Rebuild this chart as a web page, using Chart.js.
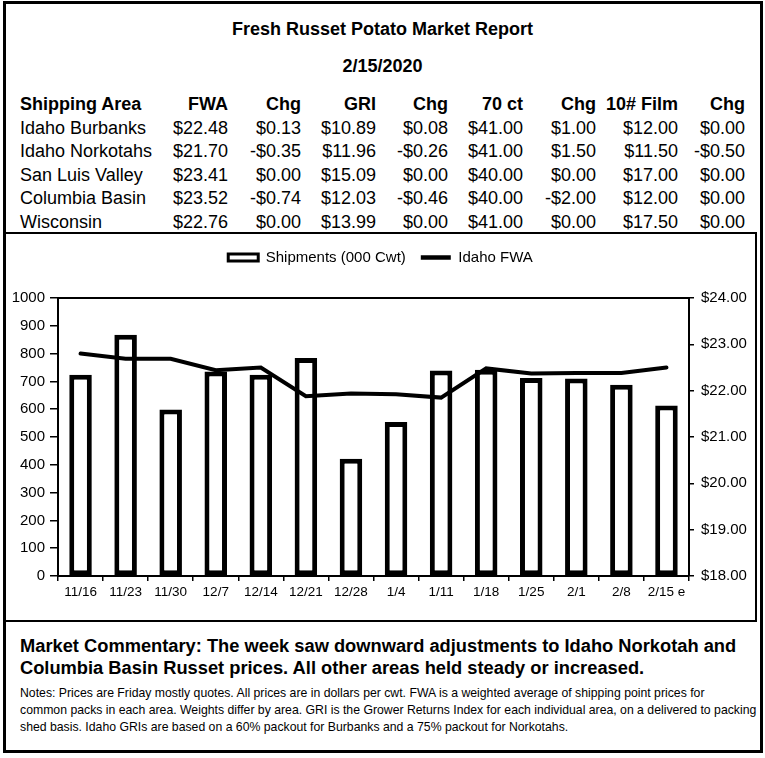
<!DOCTYPE html>
<html>
<head>
<meta charset="utf-8">
<script src="https://cdn.jsdelivr.net/npm/chart.js@4.4.1/dist/chart.umd.min.js"></script>
<style>
  body { margin: 0; background: #fff; color: #000; font-family: "Liberation Sans", Arial, sans-serif; }
  .abs { position: absolute; white-space: nowrap; line-height: 24px; }
  #frame { position: absolute; left: 3px; top: 1px; width: 754px; height: 746px; border: 3px solid #000; }
  #chartBox { position: absolute; left: 4px; top: 232px; width: 753px; height: 390px; box-sizing: border-box;
              border: 2px solid #000; border-left: none; }
  #wrap { position: absolute; left: 6px; top: 235px; width: 749px; height: 385px; }
  .title { font-weight: bold; font-size: 18px; left: 0; width: 765px; text-align: center; }
  .cell { font-size: 18px; }
  .hd { font-weight: bold; }
  .comment { font-weight: bold; font-size: 18.3px; left: 20px; line-height: 22px; }
  .notes { font-size: 12.25px; left: 20px; line-height: 17px; }
</style>
</head>
<body>
<div id="frame"></div>
<div class="abs title" style="top:17px">Fresh Russet Potato Market Report</div>
<div class="abs title" style="top:54px">2/15/2020</div>
<div id="table"></div>
<div id="chartBox"></div>
<div id="wrap"><canvas id="myChart"></canvas></div>
<div class="abs comment" style="top:635px">Market Commentary: The week saw downward adjustments to Idaho Norkotah and<br>Columbia Basin Russet prices. All other areas held steady or increased.</div>
<div class="abs notes" style="top:685px">Notes: Prices are Friday mostly quotes. All prices are in dollars per cwt. FWA is a weighted average of shipping point prices for<br>common packs in each area. Weights differ by area. GRI is the Grower Returns Index for each individual area, on a delivered to packing<br>shed basis. Idaho GRIs are based on a 60% packout for Burbanks and a 75% packout for Norkotahs.</div>

<script>
  // table
  const headers = ['Shipping Area', 'FWA', 'Chg', 'GRI', 'Chg', '70 ct', 'Chg', '10# Film', 'Chg'];
  const areas = ['Idaho Burbanks', 'Idaho Norkotahs', 'San Luis Valley', 'Columbia Basin', 'Wisconsin'];
  const fwa = ['$22.48', '$21.70', '$23.41', '$23.52', '$22.76'];
  const fwaChg = ['$0.13', '-$0.35', '$0.00', '-$0.74', '$0.00'];
  const gri = ['$10.89', '$11.96', '$15.09', '$12.03', '$13.99'];
  const griChg = ['$0.08', '-$0.26', '$0.00', '-$0.46', '$0.00'];
  const ct70 = ['$41.00', '$41.00', '$40.00', '$40.00', '$41.00'];
  const ct70Chg = ['$1.00', '$1.50', '$0.00', '-$2.00', '$0.00'];
  const film = ['$12.00', '$11.50', '$17.00', '$12.00', '$17.50'];
  const filmChg = ['$0.00', '-$0.50', '$0.00', '$0.00', '$0.00'];

  // chart
  const weeks = ['11/16', '11/23', '11/30', '12/7', '12/14', '12/21', '12/28', '1/4', '1/11', '1/18', '1/25', '2/1', '2/8', '2/15 e'];
  const shipments = [724, 868, 599, 736, 724, 784, 422, 554, 739, 742, 712, 710, 688, 613];
  const idahoFwa = [22.80, 22.69, 22.69, 22.44, 22.50, 21.88, 21.94, 21.92, 21.85, 22.48, 22.37, 22.38, 22.38, 22.50];

  const colEdges = [228, 301, 376, 448, 523, 596, 678, 745];
  const rowTop = [92, 115.5, 139, 162.5, 186, 209.5];
  const table = document.getElementById('table');
  function addCell(text, top, edge, bold) {
    const d = document.createElement('div');
    d.className = 'abs cell' + (bold ? ' hd' : '');
    d.style.top = top + 'px';
    if (edge === null) {
      d.style.left = '20px';
    } else {
      d.style.left = edge + 'px';
      d.style.transform = 'translateX(-100%)';
    }
    d.textContent = text;
    table.appendChild(d);
  }
  headers.forEach((h, i) => addCell(h, rowTop[0], i === 0 ? null : colEdges[i - 1], true));
  const cols = [fwa, fwaChg, gri, griChg, ct70, ct70Chg, film, filmChg];
  areas.forEach((a, r) => {
    addCell(a, rowTop[r + 1], null, false);
    cols.forEach((c, i) => addCell(c[r], rowTop[r + 1], colEdges[i], false));
  });

  const font = 'Liberation Sans, Arial, sans-serif';
  Chart.defaults.color = '#000';
  Chart.defaults.font.family = font;

  const ctx = document.getElementById('myChart').getContext('2d');
  new Chart(ctx, {
    data: {
      labels: weeks,
      datasets: [{
        type: 'bar',
        label: 'Shipments (000 Cwt)',
        data: shipments,
        backgroundColor: '#fff',
        borderColor: '#000',
        borderWidth: 5,
        borderSkipped: false,
        barPercentage: 0.5,
        categoryPercentage: 1,
        pointStyle: 'rect',
        yAxisID: 'y',
        order: 1
      }, {
        type: 'line',
        label: 'Idaho FWA',
        data: idahoFwa,
        borderColor: '#000',
        backgroundColor: '#000',
        borderWidth: 4,
        borderCapStyle: 'round',
        pointRadius: 0,
        pointStyle: 'line',
        tension: 0,
        yAxisID: 'y1',
        order: 0
      }]
    },
    options: {
      responsive: true,
      maintainAspectRatio: false,
      animation: false,
      layout: { padding: 0 },
      plugins: {
        tooltip: { enabled: false },
        legend: {
          position: 'top',
          labels: {
            usePointStyle: true,
            pointStyleWidth: 30,
            boxHeight: 7,
            padding: 15,
            color: '#000',
            font: { size: 15 },
            sort: (a, b) => a.datasetIndex - b.datasetIndex,
            generateLabels(chart) {
              const items = Chart.defaults.plugins.legend.labels.generateLabels(chart);
              items.forEach(it => {
                if (it.datasetIndex === 0) it.lineWidth = 3;
                else it.lineWidth = 4.5;
              });
              return items;
            }
          }
        }
      },
      scales: {
        x: {
          offset: true,
          grid: { offset: true, drawOnChartArea: false, tickLength: 5, color: '#000', lineWidth: 1.5 },
          border: { color: '#000', width: 2 },
          ticks: { font: { size: 13.5 }, maxRotation: 0, autoSkip: false, padding: 3 },
          afterFit(s) { s.height = 44; }
        },
        x2: {
          type: 'category',
          position: 'top',
          grid: { display: false, drawTicks: false },
          border: { display: true, color: '#000', width: 2 },
          ticks: { display: false },
          afterFit(s) { s.height = 23; }
        },
        y: {
          position: 'left',
          min: 0,
          max: 1000,
          ticks: { stepSize: 100, font: { size: 15 }, padding: 5, callback: v => String(v) },
          grid: { drawOnChartArea: false, tickLength: 8, color: '#000', lineWidth: 1.5 },
          border: { color: '#000', width: 2 },
          afterFit(s) { s.width = 52; }
        },
        y1: {
          position: 'right',
          min: 18,
          max: 24,
          ticks: { stepSize: 1, font: { size: 15 }, padding: 7, callback: v => '$' + v.toFixed(2) },
          grid: { drawOnChartArea: false, tickLength: 5, color: '#000', lineWidth: 1.5 },
          border: { color: '#000', width: 2 },
          afterFit(s) { s.width = 66; }
        }
      }
    }
  });
</script>
</body>
</html>
